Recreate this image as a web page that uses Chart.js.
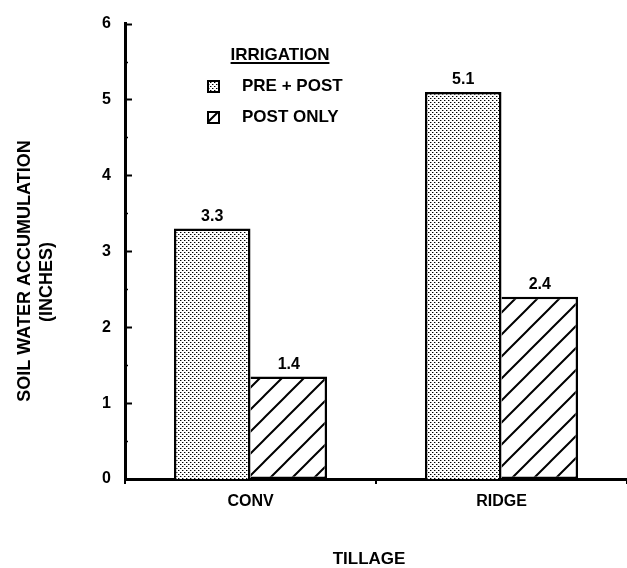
<!DOCTYPE html>
<html>
<head>
<meta charset="utf-8">
<script src="https://cdn.jsdelivr.net/npm/chart.js@4"></script>
<style>
  html, body { margin: 0; padding: 0; background: #fff; }
</style>
</head>
<body>
<canvas id="chart" width="627" height="568"></canvas>
<script>
const categories = ["CONV", "RIDGE"];
const seriesNames = ["PRE + POST", "POST ONLY"];
const prePost = [3.3, 5.1];
const postOnly = [1.35, 2.4];
const yMin = 0;
const yMax = 6;
const yStep = 1;

const FONT = "'Liberation Sans', Arial, sans-serif";

function dotPattern(ctx) {
  const c = document.createElement("canvas");
  c.width = 4;
  c.height = 4;
  const g = c.getContext("2d");
  g.fillStyle = "#fff";
  g.fillRect(0, 0, 4, 4);
  g.fillStyle = "#999";
  g.fillRect(1, 0, 1, 1);
  g.fillRect(3, 2, 1, 1);
  g.fillStyle = "#000";
  g.fillRect(0, 0, 1, 1);
  g.fillRect(2, 2, 1, 1);
  return ctx.createPattern(c, "repeat");
}

function hatchPattern(ctx) {
  const s = 22;
  const c = document.createElement("canvas");
  c.width = s;
  c.height = s;
  const g = c.getContext("2d");
  g.fillStyle = "#fff";
  g.fillRect(0, 0, s, s);
  g.strokeStyle = "#000";
  g.lineWidth = 2;
  g.beginPath();
  g.moveTo(-2, s + 2);
  g.lineTo(s + 2, -2);
  g.moveTo(-2, 2);
  g.lineTo(2, -2);
  g.moveTo(s - 2, s + 2);
  g.lineTo(s + 2, s - 2);
  g.stroke();
  return ctx.createPattern(c, "repeat");
}

const canvas = document.getElementById("chart");
const ctx = canvas.getContext("2d");
const dots = dotPattern(ctx);
const hatch = hatchPattern(ctx);

// inward ticks on the y axis, majors and half-unit minors
const yTicksPlugin = {
  id: "yTicks",
  afterDraw(chart) {
    const y = chart.scales.y;
    const c = chart.ctx;
    const left = chart.chartArea.left;
    c.save();
    c.strokeStyle = "#000";
    for (let v = yMin; v <= yMax; v += yStep / 2) {
      const py = Math.round(y.getPixelForValue(v)) + 0.5;
      const major = v % yStep === 0;
      c.lineWidth = major ? 2 : 1.5;
      c.beginPath();
      c.moveTo(left, py);
      c.lineTo(left + (major ? 7 : 3), py);
      c.stroke();
    }
    c.restore();
  },
};

const valueLabelsPlugin = {
  id: "valueLabels",
  afterDatasetsDraw(chart) {
    const c = chart.ctx;
    c.save();
    c.fillStyle = "#000";
    c.font = "bold 16px " + FONT;
    c.textAlign = "center";
    c.textBaseline = "alphabetic";
    chart.data.datasets.forEach((ds, i) => {
      chart.getDatasetMeta(i).data.forEach((bar, j) => {
        c.fillText(ds.data[j].toFixed(1), bar.x, bar.y - 8);
      });
    });
    c.restore();
  },
};

const legendPlugin = {
  id: "customLegend",
  afterDraw(chart) {
    const c = chart.ctx;
    c.save();
    c.fillStyle = "#000";
    c.font = "bold 17px " + FONT;
    c.textBaseline = "middle";
    c.textAlign = "center";
    c.fillText("IRRIGATION", 280, 55);
    const w = c.measureText("IRRIGATION").width;
    c.fillRect(280 - w / 2, 62, w, 2);
    c.textAlign = "left";
    const rows = [86, 117];
    chart.data.datasets.forEach((ds, i) => {
      const cy = rows[i];
      c.fillStyle = ds.backgroundColor;
      c.fillRect(208, cy - 5, 11, 11);
      c.strokeStyle = "#000";
      c.lineWidth = 2;
      c.strokeRect(208, cy - 5, 11, 11);
      c.fillStyle = "#000";
      c.fillText(ds.label, 242, cy);
    });
    c.restore();
  },
};

const axisTitlesPlugin = {
  id: "axisTitles",
  afterDraw(chart) {
    const c = chart.ctx;
    c.save();
    c.fillStyle = "#000";
    c.textAlign = "center";
    c.textBaseline = "middle";
    c.font = "bold 17px " + FONT;
    c.fillText("TILLAGE", 369, 559);
    c.font = "bold 18px " + FONT;
    c.translate(25, 271);
    c.rotate(-Math.PI / 2);
    c.fillText("SOIL WATER ACCUMULATION", 0, 0);
    c.restore();
    c.save();
    c.fillStyle = "#000";
    c.textAlign = "center";
    c.textBaseline = "middle";
    c.font = "bold 18px " + FONT;
    c.translate(47, 282);
    c.rotate(-Math.PI / 2);
    c.fillText("(INCHES)", 0, 0);
    c.restore();
  },
};

new Chart(ctx, {
  type: "bar",
  data: {
    labels: categories,
    datasets: [
      {
        label: seriesNames[0],
        data: prePost,
        backgroundColor: dots,
        borderColor: "#000",
        borderWidth: 2.5,
        borderSkipped: "bottom",
        categoryPercentage: 0.61,
        barPercentage: 1,
      },
      {
        label: seriesNames[1],
        data: postOnly,
        backgroundColor: hatch,
        borderColor: "#000",
        borderWidth: 2.5,
        borderSkipped: "left",
        categoryPercentage: 0.61,
        barPercentage: 1,
      },
    ],
  },
  options: {
    responsive: false,
    devicePixelRatio: 1,
    animation: false,
    layout: { padding: { top: 17, left: 0, right: 0, bottom: 0 } },
    plugins: {
      legend: { display: false },
      tooltip: { enabled: false },
      title: { display: false },
    },
    scales: {
      x: {
        offset: true,
        grid: {
          display: true,
          drawOnChartArea: false,
          drawTicks: true,
          tickLength: 5,
          offset: true,
          color: "#000",
          lineWidth: 2,
        },
        border: { display: true, color: "#000", width: 3 },
        ticks: {
          color: "#000",
          font: { family: FONT, size: 16, weight: "bold" },
          padding: 8,
        },
        afterFit(scale) {
          scale.height = 89;
        },
      },
      y: {
        min: yMin,
        max: yMax,
        grid: { display: false, drawTicks: false },
        border: { display: true, color: "#000", width: 3 },
        ticks: {
          stepSize: yStep,
          color: "#000",
          font: { family: FONT, size: 16, weight: "bold" },
          padding: 14,
        },
        afterFit(scale) {
          scale.width = 125;
        },
      },
    },
  },
  plugins: [yTicksPlugin, valueLabelsPlugin, legendPlugin, axisTitlesPlugin],
});
</script>
</body>
</html>
